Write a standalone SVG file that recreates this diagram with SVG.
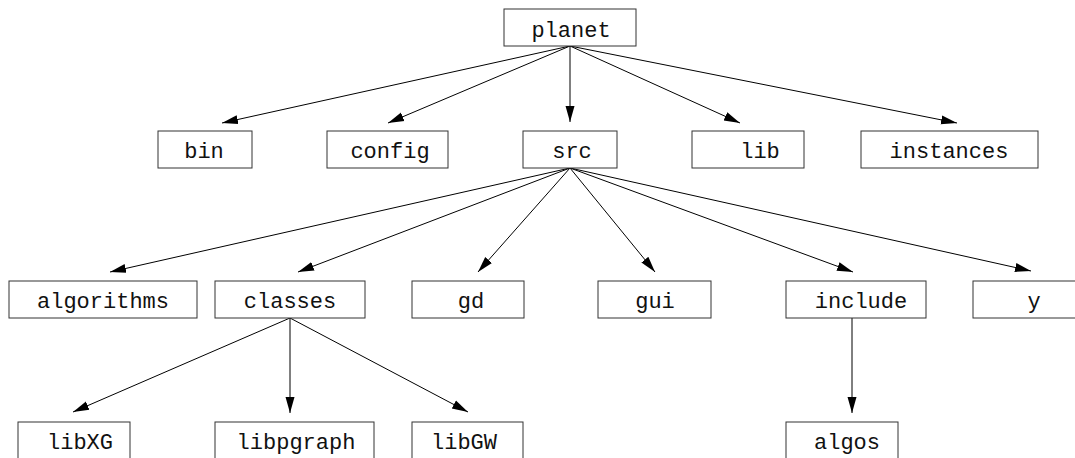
<svg xmlns="http://www.w3.org/2000/svg" width="1075" height="458" viewBox="0 0 1075 458">
<style>
rect { fill: #fff; stroke: #333; stroke-width: 1; }
text { font-family: "Liberation Mono", "Courier New", monospace; font-size: 22px; fill: #111; text-anchor: middle; }
.e line { stroke: #000; stroke-width: 1; marker-end: url(#ah); }
</style>
<defs>
<marker id="ah" markerWidth="18" markerHeight="12" refX="16" refY="6" orient="auto" markerUnits="userSpaceOnUse">
<path d="M0,1.5 L16,6 L0,10.5 z" fill="#000"/>
</marker>
</defs>
<g class="e" id="connectors">
<line x1="570" y1="46" x2="222" y2="123"/>
<line x1="570" y1="46" x2="388" y2="123"/>
<line x1="570" y1="46" x2="570" y2="122"/>
<line x1="570" y1="46" x2="740" y2="123"/>
<line x1="570" y1="46" x2="957" y2="123"/>
<line x1="570" y1="168" x2="110" y2="272"/>
<line x1="570" y1="168" x2="298" y2="272"/>
<line x1="570" y1="168" x2="478" y2="272"/>
<line x1="570" y1="168" x2="655" y2="272"/>
<line x1="570" y1="168" x2="853" y2="272"/>
<line x1="570" y1="168" x2="1031" y2="271"/>
<line x1="290" y1="318" x2="73" y2="412"/>
<line x1="290" y1="318" x2="290" y2="413"/>
<line x1="290" y1="318" x2="468" y2="412"/>
<line x1="852" y1="318" x2="852" y2="413"/>
</g>
<g id="planet"><rect x="504" y="9" width="132" height="37"/><text x="571" y="37">planet</text></g>
<g id="bin"><rect x="158" y="131" width="94" height="37"/><text x="204" y="158">bin</text></g>
<g id="config"><rect x="327" y="131" width="121" height="37"/><text x="390" y="158">config</text></g>
<g id="src"><rect x="523" y="131" width="94" height="37"/><text x="572" y="158">src</text></g>
<g id="lib"><rect x="692" y="131" width="112" height="37"/><text x="760" y="158">lib</text></g>
<g id="instances"><rect x="861" y="131" width="177" height="37"/><text x="949" y="158">instances</text></g>
<g id="algorithms"><rect x="9" y="281" width="188" height="37"/><text x="103" y="308">algorithms</text></g>
<g id="classes"><rect x="215" y="281" width="150" height="37"/><text x="290" y="308">classes</text></g>
<g id="gd"><rect x="412" y="281" width="112" height="37"/><text x="471" y="308">gd</text></g>
<g id="gui"><rect x="598" y="281" width="113" height="37"/><text x="655" y="308">gui</text></g>
<g id="include"><rect x="786" y="281" width="140" height="37"/><text x="861" y="308">include</text></g>
<g id="y"><rect x="973" y="281" width="122" height="37"/><text x="1034" y="308">y</text></g>
<g id="libXG"><rect x="18" y="422" width="112" height="37"/><text x="80" y="449">libXG</text></g>
<g id="libpgraph"><rect x="215" y="422" width="159" height="37"/><text x="296" y="449">libpgraph</text></g>
<g id="libGW"><rect x="412" y="422" width="111" height="37"/><text x="464" y="449">libGW</text></g>
<g id="algos"><rect x="786" y="422" width="112" height="37"/><text x="847" y="449">algos</text></g>
</svg>
